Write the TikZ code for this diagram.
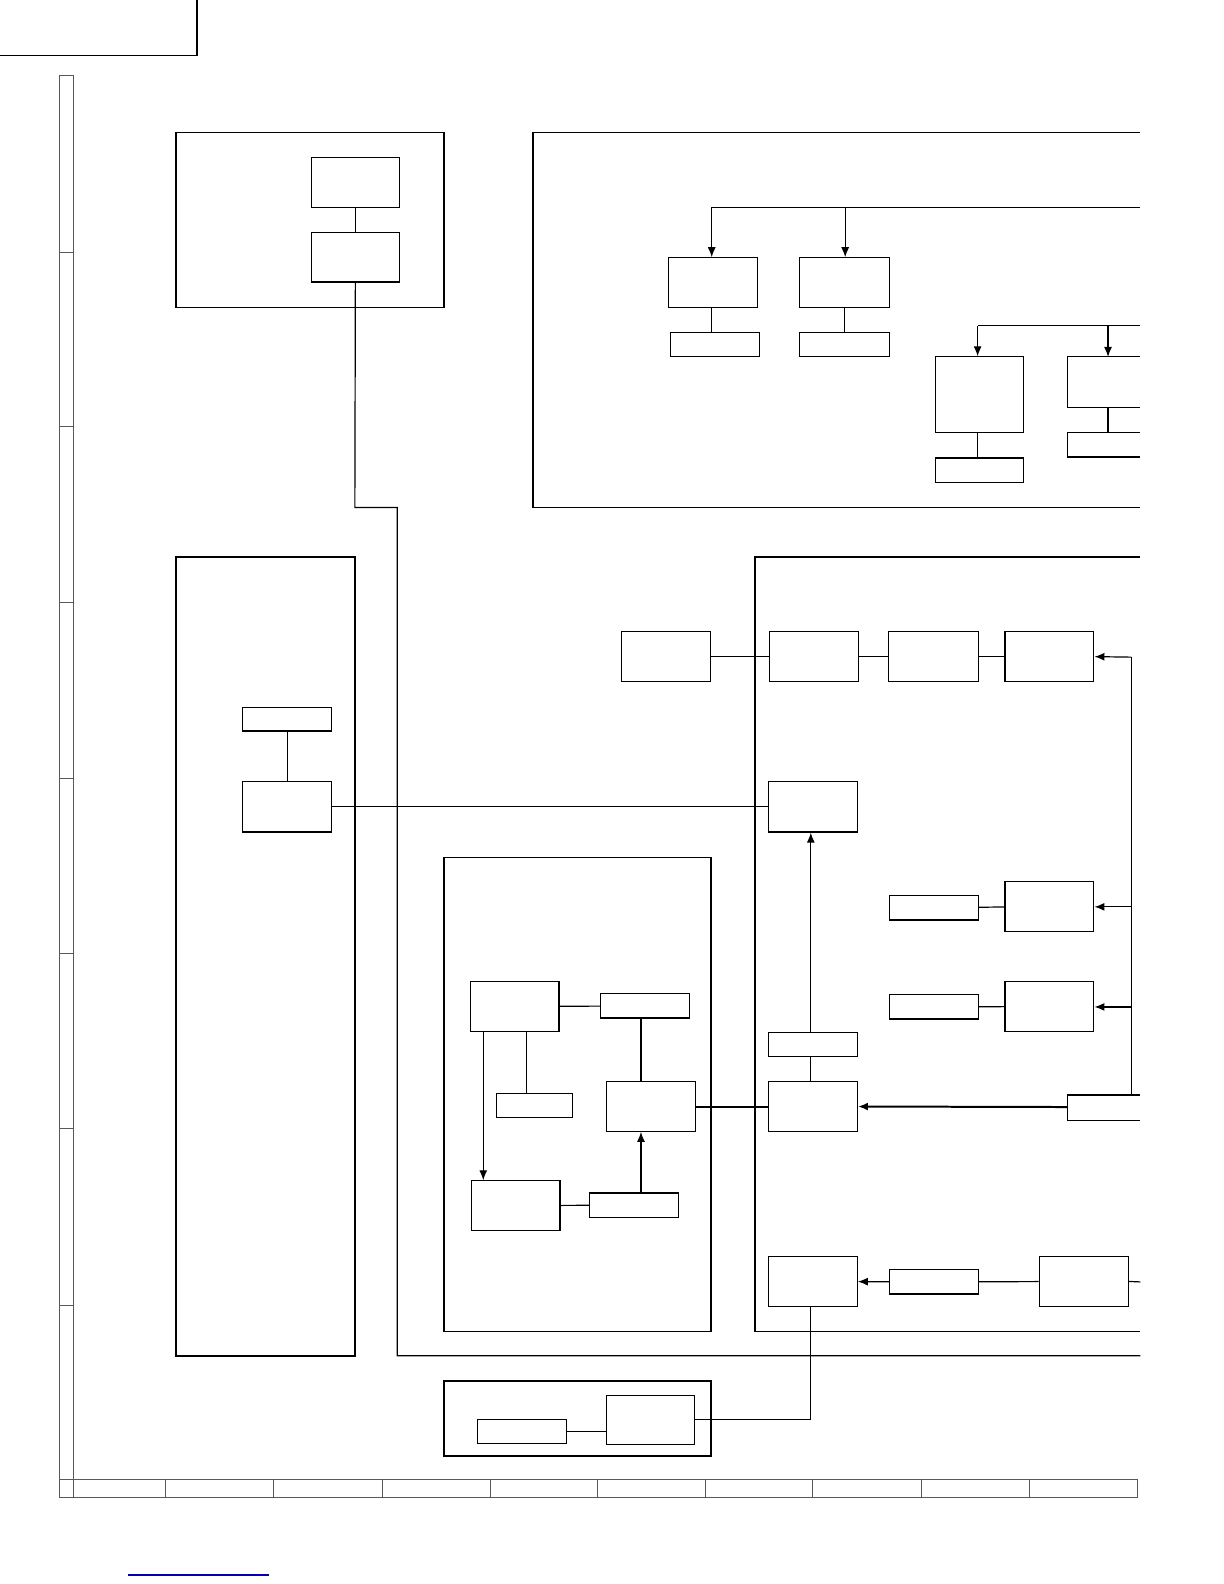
\documentclass[tikz,border=0pt]{standalone}
\usetikzlibrary{arrows.meta,fit}
\tikzset{
  blk/.style={draw, line width=0.6pt, inner sep=0pt},
  frame/.style={draw, line width=0.8pt},
  wire/.style={line width=0.6pt},
  fat/.style={line width=1pt},
  arr/.style={wire, -{Latex[length=5pt,width=4pt]}},
  ruler/.style={draw, gray!70!black, line width=0.5pt}
}
% block from corner to corner (pixel coordinates)
\newcommand\blk[5]{\path (#2,#3) coordinate (#1-nw) (#4,#5) coordinate (#1-se);
  \node[blk, fit=(#1-nw)(#1-se)] (#1) {};}
\begin{document}
\begin{tikzpicture}[x=0.5055bp, y=-0.5055bp]
    \useasboundingbox (0,0) rectangle (1210.7,1566.8);

    % title corner and rulers
    \draw[frame] (0,55) -- (195,55) -- (195,0);
    \draw[ruler] (59,75) rectangle (73,1481);
    \foreach \y in {250,422,596,770,943,1116,1291}
        \draw[ruler] (59,\y) -- (73,\y);
    \draw[ruler] (59,1463) rectangle (1125,1481);
    \foreach \x in {73,164,271,378,485,591,698,804,911,1018}
        \draw[ruler] (\x,1463) -- (\x,1481);
    \draw[blue!70!black, line width=0.8pt] (127,1558) -- (266,1558);

    % group frames
    \draw[frame] (174,131) rectangle (439,304);
    \draw[frame] (1128,131) -- (527,131) -- (527,502) -- (1128,502);
    \draw[frame] (174,551) rectangle (351,1341);
    \draw[frame] (1128,551) -- (747,551) -- (747,1317) -- (1128,1317);
    \draw[frame] (439,848) rectangle (703,1317);
    \draw[frame] (439,1366) rectangle (703,1440);

    % top left group
    \blk{A1}{308}{156}{395}{205}
    \blk{A2}{308}{230}{395}{279}
    \draw[wire] (A1) -- (A2);
    \draw[wire] (A2.south) -- (351,502) -- (393,502) -- (393,1341) -- (1128,1341);

    % top right group
    \blk{B1}{661}{255}{749}{304}
    \blk{B1t}{663}{329}{751}{353}
    \blk{B2}{791}{255}{880}{304}
    \blk{B2t}{791}{329}{880}{353}
    \blk{B3}{925}{353}{1012}{428}
    \blk{B3t}{925}{453}{1012}{477}
    \draw[blk] (1128,353) -- (1056,353) -- (1056,403) -- (1128,403);
    \draw[blk] (1128,428) -- (1056,428) -- (1056,452) -- (1128,452);
    \draw[wire] (1128,205) -- (704,205);
    \draw[arr] (704,205) -- (B1.north-|704,0);
    \draw[arr] (836,205) -- (B2.north-|836,0);
    \draw[wire] (B1.south-|704,0) -- (B1t.north-|704,0);
    \draw[wire] (B2) -- (B2t);
    \draw[wire] (1128,322) -- (967,322);
    \draw[arr] (967,322) -- (B3.north-|967,0);
    \draw[arr] (1096,322) -- (1096,353);
    \draw[wire] (B3.south-|967,0) -- (B3t.north-|967,0);
    \draw[wire] (1096,403) -- (1096,428);

    % left group
    \blk{C1}{240}{700}{328}{723}
    \blk{C2}{240}{773}{328}{823}
    \draw[wire] (C1.south-|284,0) -- (C2.north-|284,0);

    % right group
    \blk{D0}{615}{625}{703}{674}
    \blk{D1}{761}{625}{849}{674}
    \blk{D1b}{879}{625}{968}{674}
    \blk{D1c}{994}{625}{1082}{674}
    \blk{D2}{760}{773}{848}{823}
    \blk{D3}{880}{886}{968}{910}
    \blk{D3b}{994}{872}{1082}{921}
    \blk{D4}{880}{984}{968}{1008}
    \blk{D4b}{994}{971}{1082}{1020}
    \blk{D5t}{760}{1021}{848}{1045}
    \blk{D5}{760}{1070}{848}{1119}
    \blk{D7}{760}{1243}{848}{1292}
    \blk{D7t}{880}{1256}{968}{1280}
    \blk{D7b}{1028}{1243}{1116}{1292}
    \draw[blk] (1128,1083) -- (1056,1083) -- (1056,1108) -- (1128,1108);
    \coordinate (D6w) at (1056,1095);
    \draw[wire] (D0) -- (D1);
    \draw[wire] (D1) -- (D1b);
    \draw[wire] (D1b) -- (D1c);
    \draw[wire] (C2) -- (D2);
    \draw[arr] (D5t.north-|802,0) -- (D2.south-|802,0);
    \draw[wire] (D5t.south-|802,0) -- (D5.north-|802,0);
    \draw[wire] (D3) -- (D3b);
    \draw[wire] (D4) -- (D4b);
    \draw[wire] (1119,1083) -- (1119,650);
    \draw[arr] (1119,650) -- (D1c.east);
    \draw[arr] (1119,897) -- (D3b.east|-0,897);
    \draw[arr] (1119,996) -- (D4b.east|-0,996);
    \draw[arr, fat] (D6w) -- (D5.east);
    \draw[arr] (D7t) -- (D7);
    \draw[wire] (D7t) -- (D7b);
    \draw[wire] (D7b.east) -- (1128,1268);

    % inner group
    \blk{E1}{465}{971}{553}{1020}
    \blk{E1t}{594}{983}{682}{1007}
    \blk{E2}{491}{1082}{566}{1105}
    \blk{E3}{466}{1168}{554}{1217}
    \blk{E3t}{583}{1180}{671}{1204}
    \blk{E4}{600}{1070}{688}{1119}
    \draw[wire] (E1) -- (E1t);
    \draw[wire] (E1.south-|521,0) -- (E2.north-|521,0);
    \draw[arr] (E1.south-|478,0) -- (E3.north-|478,0);
    \draw[wire] (E3) -- (E3t);
    \draw[arr] (E3t.north-|634,0) -- (E4.south-|634,0);
    \draw[wire] (E1t.south-|634,0) -- (E4.north-|634,0);
    \draw[fat] (E4) -- (D5);

    % bottom group
    \blk{F1}{472}{1404}{560}{1428}
    \blk{F2}{600}{1380}{687}{1429}
    \draw[wire] (F1.east) -- (F2.west|-F1.east);
    \draw[wire] (F2.east|-0,1404) -- (802,1404) -- (D7.south-|802,0);
\end{tikzpicture}
\end{document}
